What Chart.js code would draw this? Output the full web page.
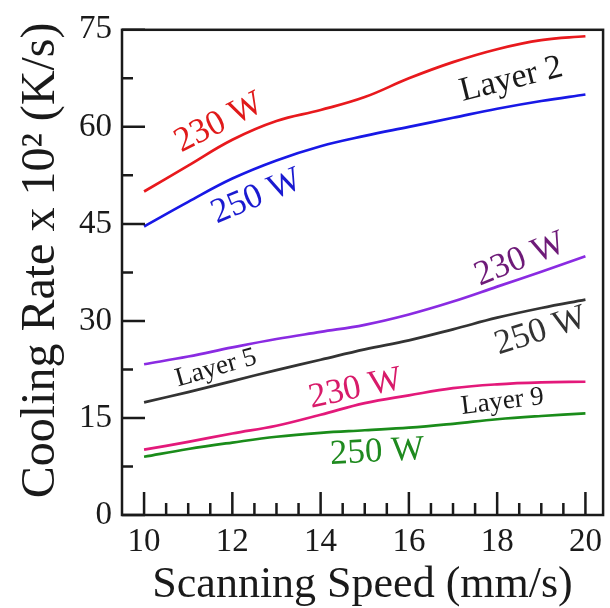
<!DOCTYPE html>
<html>
<head>
<meta charset="utf-8">
<script src="https://cdn.jsdelivr.net/npm/chart.js@4"></script>
<style>
  html, body { margin: 0; padding: 0; background: #fff; }
  #wrap { width: 610px; height: 608px; position: relative; }
</style>
</head>
<body>
<div id="wrap"><canvas id="chart"></canvas></div>
<script>
// Scanning speed (mm/s)
const speeds = [10, 11, 12, 13, 14, 15, 16, 17, 18, 19, 20];

// Cooling rate x 10^2 (K/s)
const layer2_230 = [50.0, 54.0, 58.0, 60.9, 62.6, 64.6, 67.5, 70.0, 72.0, 73.4, 74.0];
const layer2_250 = [44.6, 48.4, 52.0, 54.8, 57.0, 58.6, 60.0, 61.4, 62.8, 64.0, 65.0];
const layer5_230 = [23.3, 24.5, 25.9, 27.2, 28.3, 29.4, 31.0, 33.0, 35.3, 37.6, 40.0];
const layer5_250 = [17.4, 19.0, 20.7, 22.4, 24.0, 25.6, 27.0, 28.7, 30.5, 32.0, 33.3];
const layer9_230 = [10.1, 11.3, 12.6, 13.8, 15.5, 17.3, 18.5, 19.6, 20.2, 20.5, 20.6];
const layer9_250 = [9.0, 10.2, 11.2, 12.1, 12.7, 13.1, 13.5, 14.1, 14.8, 15.3, 15.7];

const xTickLabels = [10, 12, 14, 16, 18, 20];
const yTickLabels = [0, 15, 30, 45, 60, 75];

// in-plot text labels: text, speed, rate, angle (deg), colour, font size
const notes = [
  ['230 W', 11.7, 60.6, -27, '#e01a1a', 35],
  ['250 W', 12.55, 49.2, -23, '#1a1ad0', 35],
  ['Layer 2', 18.32, 67.3, -14, '#1a1a1a', 34],
  ['230 W', 18.52, 39.5, -22, '#6e1a78', 35],
  ['250 W', 18.99, 28.4, -18, '#333333', 35],
  ['Layer 5', 11.63, 22.7, -16, '#1a1a1a', 27],
  ['230 W', 14.79, 19.5, -12, '#d81b6a', 35],
  ['Layer 9', 18.12, 17.5, -7, '#1a1a1a', 27],
  ['250 W', 15.28, 9.7, -3, '#1f8a1f', 35]
];

const FONT = "'Liberation Serif', 'DejaVu Serif', serif";

function series(vals, color) {
  return {
    data: speeds.map((s, i) => ({ x: s, y: vals[i] })),
    borderColor: color,
    borderWidth: 2.7,
    pointRadius: 0,
    fill: false,
    tension: 0.4
  };
}

// box around the plot and inward ticks
const framePlugin = {
  id: 'frame',
  afterDraw(chart) {
    const ctx = chart.ctx;
    const a = chart.chartArea;
    const xs = chart.scales.x, ys = chart.scales.y;
    ctx.save();
    ctx.strokeStyle = '#1a1a1a';
    ctx.lineWidth = 2.5;
    ctx.strokeRect(a.left, a.top, a.right - a.left, a.bottom - a.top);
    ctx.beginPath();
    xs.ticks.forEach(t => {
      const v = t.value;
      if (v < 10 - 1e-6 || v > 20 + 1e-6) return;
      if (Math.abs(v * 2 - Math.round(v * 2)) > 1e-6) return;
      const len = xTickLabels.includes(v) ? 23 : 12;
      const px = xs.getPixelForValue(v);
      ctx.moveTo(px, a.bottom);
      ctx.lineTo(px, a.bottom - len);
    });
    ys.ticks.forEach(t => {
      const v = t.value;
      if (v < 0 || v > 75) return;
      const len = yTickLabels.includes(v) ? 23 : 11;
      const py = ys.getPixelForValue(v);
      ctx.moveTo(a.left, py);
      ctx.lineTo(a.left + len, py);
    });
    ctx.stroke();
    ctx.restore();
  }
};

const notePlugin = {
  id: 'notes',
  afterDatasetsDraw(chart) {
    const ctx = chart.ctx;
    const xs = chart.scales.x, ys = chart.scales.y;
    notes.forEach(([text, s, v, ang, color, size]) => {
      ctx.save();
      ctx.translate(xs.getPixelForValue(s), ys.getPixelForValue(v));
      ctx.rotate(ang * Math.PI / 180);
      ctx.font = size + 'px ' + FONT;
      ctx.fillStyle = color;
      ctx.textAlign = 'center';
      ctx.textBaseline = 'middle';
      ctx.fillText(text, 0, 0);
      ctx.restore();
    });
  }
};

new Chart(document.getElementById('chart'), {
  type: 'line',
  data: {
    datasets: [
      series(layer2_230, '#e8191d'),
      series(layer2_250, '#1818e6'),
      series(layer5_230, '#8a2be2'),
      series(layer5_250, '#333333'),
      series(layer9_230, '#e3197a'),
      series(layer9_250, '#1a8c1a')
    ]
  },
  options: {
    responsive: true,
    maintainAspectRatio: false,
    animation: false,
    layout: { padding: { top: 27, right: 2, left: 0, bottom: 0 } },
    plugins: {
      legend: { display: false },
      tooltip: { enabled: false }
    },
    scales: {
      x: {
        type: 'linear',
        min: 9.5,
        max: 20.4,
        grid: { display: false, drawTicks: false },
        border: { display: false },
        afterFit: s => { s.height = 93; },
        ticks: {
          stepSize: 0.5,
          includeBounds: false,
          autoSkip: false,
          maxRotation: 0,
          padding: 8,
          color: '#1a1a1a',
          font: { family: FONT, size: 33 },
          callback: v => xTickLabels.includes(v) ? String(v) : ''
        },
        title: {
          display: true,
          text: 'Scanning Speed (mm/s)',
          color: '#1a1a1a',
          font: { family: FONT, size: 44, lineHeight: 1 },
          padding: { top: 0, bottom: 1 }
        }
      },
      y: {
        min: 0,
        max: 75,
        grid: { display: false, drawTicks: false },
        border: { display: false },
        afterFit: s => { s.width = 122; },
        ticks: {
          stepSize: 7.5,
          autoSkip: false,
          padding: 10,
          color: '#1a1a1a',
          font: { family: FONT, size: 33 },
          callback: v => yTickLabels.includes(v) ? String(v) : ''
        },
        title: {
          display: true,
          text: '\u2002Cooling Rate x 10\u00B2 (K/s)',
          color: '#1a1a1a',
          font: { family: FONT, size: 48, lineHeight: 1 },
          padding: { top: 17, bottom: 0 }
        }
      }
    }
  },
  plugins: [framePlugin, notePlugin]
});
</script>
</body>
</html>
